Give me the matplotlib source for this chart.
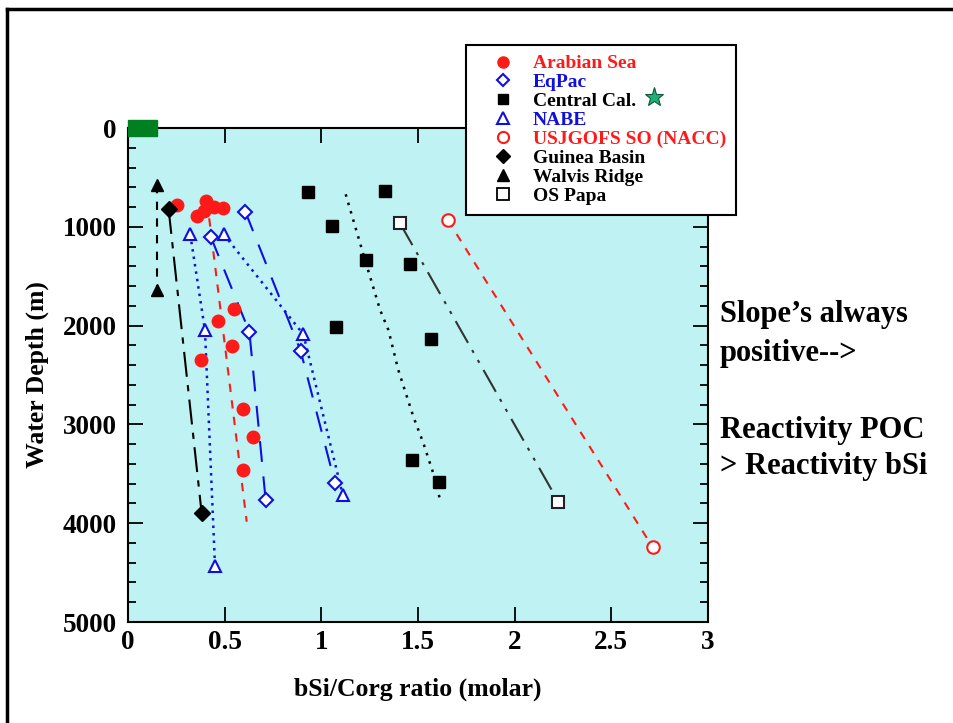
import matplotlib.pyplot as plt
from matplotlib.lines import Line2D
import numpy as np

plt.rcParams['font.family'] = ['Liberation Serif', 'DejaVu Serif']
plt.rcParams['font.weight'] = 'bold'

# data (bSi/Corg ratio, depth m)
arab_x = [0.252, 0.402, 0.395, 0.357, 0.446, 0.493, 0.55, 0.467, 0.536, 0.378, 0.597, 0.648, 0.597]
arab_d = [783, 736, 840, 888, 800, 813, 1835, 1954, 2207, 2348, 2847, 3128, 3465]
arab_fit_x = [0.42, 0.614]
arab_fit_d = [914, 3985]

eqpac1_x = [0.607, 0.893, 1.071]
eqpac1_d = [847, 2257, 3596]
eqpac2_x = [0.428, 0.628, 0.712]
eqpac2_d = [1100, 2065, 3765]

nabe1_x = [0.322, 0.398, 0.45]
nabe1_d = [1076, 2045, 4433]
nabe2_x = [0.495, 0.907, 1.111]
nabe2_d = [1076, 2088, 3715]

ccal_x = [0.933, 1.33, 1.054, 1.233, 1.457, 1.074, 1.567, 1.471, 1.609]
ccal_d = [651, 638, 989, 1336, 1380, 2011, 2132, 3363, 3580]
ccal_fit_x = [1.126, 1.226, 1.304, 1.347, 1.398, 1.476, 1.528, 1.579, 1.619]
ccal_fit_d = [671, 1336, 1842, 2045, 2449, 2922, 3191, 3495, 3799]

guinea_x = [0.21, 0.381]
guinea_d = [820, 3900]
walvis_x = [0.15, 0.15]
walvis_d = [577, 1640]
nacc_x = [1.654, 2.714]
nacc_d = [931, 4244]
papa_x = [1.407, 2.226]
papa_d = [965, 3782]

fig = plt.figure(figsize=(9.54, 7.23), dpi=100)
ax = fig.add_axes([128/954, 1-622/723, 580/954, 494/723])
ax.set_facecolor('#bff2f2')

red = '#ff1a1a'
blue = '#1010dd'

# fit / connecting lines
ax.plot(arab_fit_x, arab_fit_d, color=red, lw=1.5, dashes=(4, 4))
ax.plot(eqpac1_x, eqpac1_d, color=blue, lw=1.5, dashes=(10, 7))
ax.plot(eqpac2_x, eqpac2_d, color=blue, lw=1.5, dashes=(10, 7))
ax.plot(nabe1_x, nabe1_d, color=blue, lw=1.8, dashes=(1, 2))
ax.plot(nabe2_x, nabe2_d, color=blue, lw=1.8, dashes=(1, 2))
ax.plot(ccal_fit_x, ccal_fit_d, color='black', lw=1.8, dashes=(1, 2.5))
ax.plot(guinea_x, guinea_d, color='black', lw=1.5, dashes=(12, 4, 3, 4))
ax.plot(walvis_x, walvis_d, color='black', lw=1.5, dashes=(4, 4))
ax.plot(nacc_x, nacc_d, color=red, lw=1.5, dashes=(4, 4))
ax.plot(papa_x, papa_d, color='#333333', lw=1.5, dashes=(12, 4, 1.5, 4, 1.5, 4))

# markers
ax.plot(arab_x, arab_d, 'o', color=red, ms=9, ls='none')
ax.plot(eqpac1_x + eqpac2_x, eqpac1_d + eqpac2_d, 'D', mfc='white', mec=blue, mew=1.5, ms=7, ls='none')
ax.plot(ccal_x, ccal_d, 's', color='black', ms=8, ls='none')
ax.plot(nabe1_x + nabe2_x, nabe1_d + nabe2_d, '^', mfc='white', mec=blue, mew=1.5, ms=9, ls='none')
ax.plot(nacc_x, nacc_d, 'o', mfc='white', mec=red, mew=1.5, ms=9, ls='none')
ax.plot(guinea_x, guinea_d, 'D', color='black', ms=8, ls='none')
ax.plot(walvis_x, walvis_d, '^', color='black', ms=9, ls='none')
ax.plot(papa_x, papa_d, 's', mfc='white', mec='#222222', mew=1.5, ms=9, ls='none')

# green box at the surface
ax.add_patch(plt.Rectangle((0, -85), 0.15, 170, color='#008020', clip_on=False, zorder=5))

ax.set_xlim(0, 3)
ax.set_ylim(5000, 0)
ax.set_xticks(np.arange(0, 3.01, 0.5))
ax.set_xticklabels(['0', '0.5', '1', '1.5', '2', '2.5', '3'])
ax.set_yticks(np.arange(0, 5001, 1000))
ax.set_yticks(np.arange(0, 5001, 200), minor=True)
ax.tick_params(which='both', direction='in', top=True, right=True, width=1.3, labelsize=19.5, pad=8)
ax.tick_params(which='major', length=11)
ax.tick_params(which='minor', length=6)
ax.tick_params(axis='x', which='minor', bottom=False, top=False)
ax.tick_params(axis='x', pad=6)
for s in ax.spines.values():
    s.set_linewidth(1.5)

ax.set_xlabel('bSi/Corg ratio (molar)', fontsize=18.5, fontweight='bold', labelpad=16)
ax.set_ylabel('Water Depth (m)', fontsize=18.5, fontweight='bold', labelpad=10)

# legend
handles = [
    Line2D([], [], marker='o', color=red, ls='none', ms=8),
    Line2D([], [], marker='D', mfc='white', mec=blue, mew=1.5, ls='none', ms=6.5),
    Line2D([], [], marker='s', color='black', ls='none', ms=7),
    Line2D([], [], marker='^', mfc='white', mec=blue, mew=1.5, ls='none', ms=8),
    Line2D([], [], marker='o', mfc='white', mec=red, mew=1.5, ls='none', ms=8),
    Line2D([], [], marker='D', color='black', ls='none', ms=7),
    Line2D([], [], marker='^', color='black', ls='none', ms=8),
    Line2D([], [], marker='s', mfc='white', mec='black', mew=1.3, ls='none', ms=8),
]
labels = ['Arabian Sea', 'EqPac', 'Central Cal.', 'NABE', 'USJGOFS SO (NACC)',
          'Guinea Basin', 'Walvis Ridge', 'OS Papa']
label_colors = [red, blue, 'black', blue, red, 'black', 'black', 'black']
leg = fig.legend(handles, labels, loc='upper left', bbox_to_anchor=(466/954, 1-45/723),
                 prop={'family': 'Liberation Serif', 'weight': 'bold', 'size': 14},
                 labelcolor=label_colors, frameon=True, fancybox=False, framealpha=1,
                 edgecolor='black', handlelength=2.8, handletextpad=0.15, labelspacing=0.07,
                 borderpad=0.5, borderaxespad=0)
leg.get_frame().set_linewidth(1.5)
leg.set_zorder(10)
fig.add_artist(Line2D([654/954], [1-97/723], marker='*', ms=14, mfc='#1fb07a', mec='#0a5a3a',
                      mew=0.8, ls='none', zorder=11))

# side notes
fig.text(720/954, 1-300/723, 'Slope\u2019s always\npositive-->', fontsize=22, fontweight='bold',
         va='top', ha='left', linespacing=1.45)
fig.text(720/954, 1-416/723, 'Reactivity POC\n> Reactivity bSi', fontsize=22, fontweight='bold',
         va='top', ha='left', linespacing=1.3)

# outer frame
fig.add_artist(Line2D([7/954, 1], [1-9/723, 1-9/723], color='black', lw=2.5))
fig.add_artist(Line2D([7/954, 7/954], [0, 1-9/723], color='black', lw=2.5))

fig.savefig('out.png', dpi=100)
